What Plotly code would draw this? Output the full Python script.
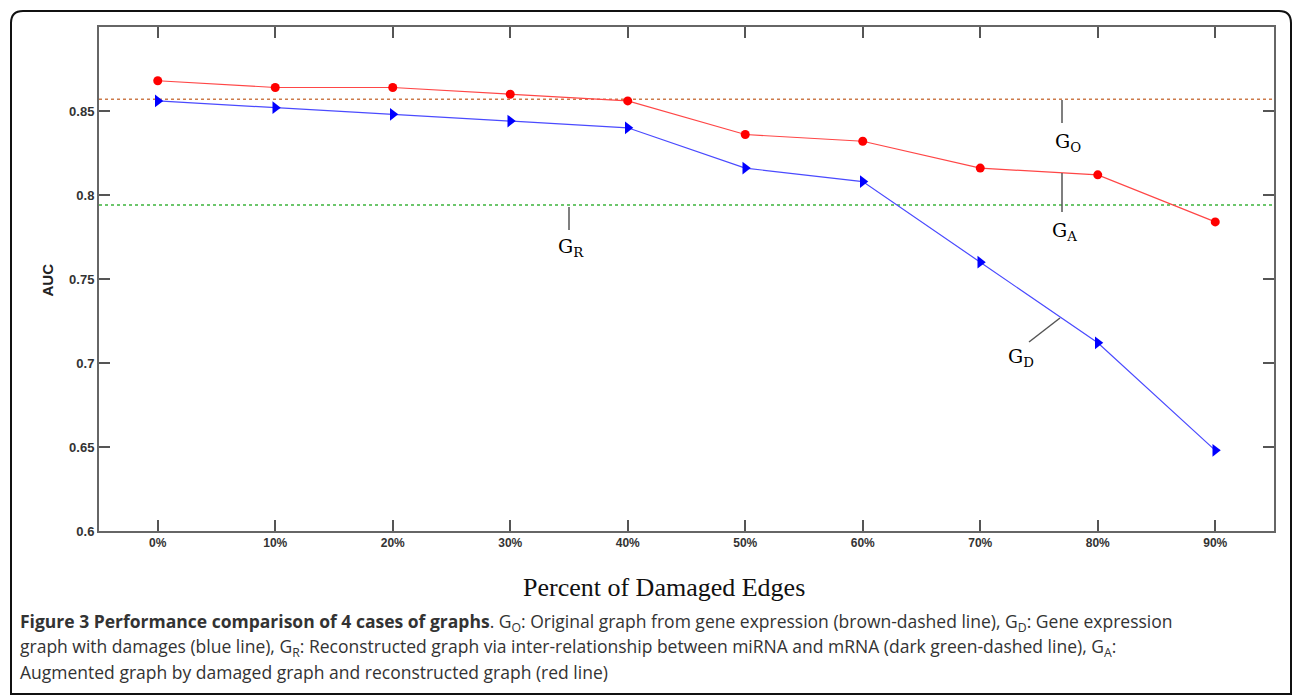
import plotly.graph_objects as go

categories = ["0%", "10%", "20%", "30%", "40%", "50%", "60%", "70%", "80%", "90%"]
auc_augmented = [0.868, 0.864, 0.864, 0.860, 0.856, 0.836, 0.832, 0.816, 0.812, 0.784]
auc_damaged = [0.856, 0.852, 0.848, 0.844, 0.840, 0.816, 0.808, 0.760, 0.712, 0.648]
auc_original = 0.857
auc_reconstructed = 0.794
y_ticks = [0.6, 0.65, 0.7, 0.75, 0.8, 0.85]
y_tick_labels = ["0.6", "0.65", "0.7", "0.75", "0.8", "0.85"]

W, H = 1293, 696
L, R, T, B = 99, 1274, 27, 531
XMIN, XMAX = -0.5, 9.5
YMIN, YMAX = 0.6, 0.9


def px2x(px):
    return XMIN + (px - L) / (R - L) * (XMAX - XMIN)


def py2y(py):
    return YMIN + (B - py) / (B - T) * (YMAX - YMIN)


def ppx(px):
    return (px - L) / (R - L)


def ppy(py):
    return (B - py) / (B - T)


idx = list(range(len(categories)))

fig = go.Figure()
fig.add_trace(go.Scatter(
    x=[XMIN, XMAX], y=[auc_original, auc_original], mode="lines",
    line=dict(color="#cc7a4a", width=1.5, dash="dot"), hoverinfo="skip", showlegend=False))
fig.add_trace(go.Scatter(
    x=[XMIN, XMAX], y=[auc_reconstructed, auc_reconstructed], mode="lines",
    line=dict(color="#3cb43c", width=1.5, dash="dot"), hoverinfo="skip", showlegend=False))
fig.add_trace(go.Scatter(
    x=idx, y=auc_augmented, mode="lines+markers",
    line=dict(color="#ff4646", width=1.2),
    marker=dict(symbol="circle", size=9, color="#ff0000"), showlegend=False))
fig.add_trace(go.Scatter(
    x=idx, y=auc_damaged, mode="lines+markers",
    line=dict(color="#4a4aff", width=1.2),
    marker=dict(symbol="triangle-right", size=11, color="#0000ff"), showlegend=False))

lab_font = dict(family="DejaVu Serif", size=19, color="#000000")
leaders = [
    (1062, 100, 1062, 123),
    (1062, 173, 1062, 212),
    (569, 207, 569, 230),
    (1060, 318, 1029, 342),
]
shapes = []
for x0, y0, x1, y1 in leaders:
    shapes.append(dict(type="line", xref="x", yref="y",
                       x0=px2x(x0), y0=py2y(y0), x1=px2x(x1), y1=py2y(y1),
                       line=dict(color="#555555", width=1.5)))

labels = [
    ("G<sub>O</sub>", 1068, 142),
    ("G<sub>A</sub>", 1064, 231),
    ("G<sub>R</sub>", 571, 247),
    ("G<sub>D</sub>", 1021, 357),
]
annotations = []
for text, x, y in labels:
    annotations.append(dict(text=text, xref="x", yref="y", x=px2x(x), y=py2y(y),
                            showarrow=False, font=lab_font, xanchor="center", yanchor="middle"))

# rounded frame
x0p, x1p = ppx(11), ppx(1291)
y0p, y1p = ppy(11), ppy(694)
rx, ry = 12 / (R - L), 12 / (B - T)
path = (f"M {x0p + rx},{y0p} L {x1p - rx},{y0p} Q {x1p},{y0p} {x1p},{y0p - ry} "
        f"L {x1p},{y1p} L {x0p},{y1p} L {x0p},{y0p - ry} Q {x0p},{y0p} {x0p + rx},{y0p} Z")
shapes.append(dict(type="path", xref="paper", yref="paper", path=path,
                   line=dict(color="#111111", width=2), fillcolor="rgba(0,0,0,0)", layer="below"))

annotations.append(dict(text="<b>AUC</b>", xref="paper", yref="paper", x=ppx(36), y=ppy(280),
                        textangle=-90, showarrow=False,
                        font=dict(family="Liberation Sans", size=15, color="#222222")))
annotations.append(dict(text="Percent of Damaged Edges", xref="paper", yref="paper",
                        x=ppx(664), y=ppy(587), showarrow=False,
                        font=dict(family="Liberation Serif", size=26, color="#111111"),
                        xanchor="center", yanchor="middle"))

cap_font = dict(family="Open Sans", size=17.5, color="#333333")
cap_lines = [
    ("<b>Figure 3 Performance comparison of 4 cases of graphs</b>. G<sub>O</sub>: Original graph from gene "
     "expression (brown-dashed line), G<sub>D</sub>: Gene expression", 622),
    ("graph with damages (blue line), G<sub>R</sub>: Reconstructed graph via inter-relationship between miRNA "
     "and mRNA (dark green-dashed line), G<sub>A</sub>:", 647),
    ("Augmented graph by damaged graph and reconstructed graph (red line)", 672),
]
for text, y in cap_lines:
    annotations.append(dict(text=text, xref="paper", yref="paper", x=ppx(18), y=ppy(y),
                            showarrow=False, font=cap_font, xanchor="left", yanchor="middle"))

fig.update_layout(
    width=W, height=H,
    margin=dict(l=L, r=W - R, t=T, b=H - B),
    paper_bgcolor="white", plot_bgcolor="white",
    shapes=shapes, annotations=annotations, showlegend=False,
    xaxis=dict(
        type="linear", range=[XMIN, XMAX], tickvals=idx, ticktext=categories,
        ticks="inside", ticklen=11, tickwidth=1.5, tickcolor="#555555",
        showline=True, linecolor="#666666", linewidth=2, mirror="ticks",
        showgrid=False, zeroline=False,
        tickfont=dict(family="Liberation Sans", size=12, color="#333333", weight="bold"),
    ),
    yaxis=dict(
        range=[YMIN, YMAX], tickvals=y_ticks, ticktext=y_tick_labels,
        ticks="inside", ticklen=11, tickwidth=1.5, tickcolor="#555555",
        showline=True, linecolor="#666666", linewidth=2, mirror="ticks",
        showgrid=False, zeroline=False,
        tickfont=dict(family="Liberation Sans", size=13, color="#333333", weight="bold"),
    ),
)

fig.write_html("out.html", config={"displayModeBar": False},
               post_script="document.body.style.margin='0px';document.body.style.overflow='hidden';")
